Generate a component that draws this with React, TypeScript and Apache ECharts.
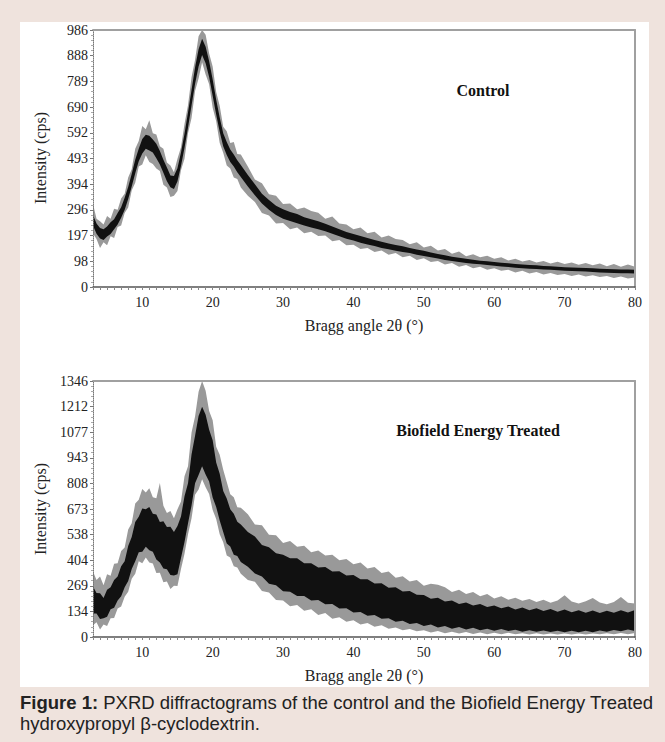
import React, { useEffect, useRef } from "react";
import * as echarts from "echarts";

// Sampled Bragg angles (deg)
const ANGLES = [3,3.5,4,4.5,5,5.5,6,6.5,7,7.5,8,8.5,9,9.5,10,10.5,11,11.5,12,12.5,13,13.5,14,14.5,15,15.5,16,16.5,17,17.5,18,18.5,19,19.5,20,20.5,21,21.5,22,22.5,23,23.5,24,
25,26,27,28,29,30,31,32,33,34,35,36,37,38,39,40,41,42,43,44,45,46,47,48,49,50,51,52,53,54,55,56,57,58,59,60,61,62,63,64,65,66,67,68,69,70,71,72,73,74,75,76,77,78,79,80];

// Control: envelope of the noisy trace (outer = extreme spikes, inner = dense core)
const CTRL_LOW_OUT = [205,184,150,172,160,195,188,230,236,284,305,370,400,462,470,505,480,472,455,445,392,382,345,350,368,448,492,590,648,752,800,862,815,778,688,636,552,515,466,455,420,414,382,
350,326,284,274,244,246,222,228,206,212,196,198,176,180,160,162,146,150,134,140,124,130,114,120,104,110,96,100,86,92,78,84,72,78,66,72,62,66,56,62,52,58,48,54,46,50,42,48,40,45,38,42,35,40,33,36];
const CTRL_LOW_IN = [236,204,186,180,194,203,222,240,266,296,338,386,436,482,512,530,524,516,494,470,438,406,383,376,406,464,534,612,696,780,846,890,858,806,734,662,596,540,506,480,462,440,422,
386,352,320,296,276,262,253,245,236,228,222,214,204,195,185,178,170,163,157,150,145,139,134,130,124,119,114,109,104,100,96,92,89,87,84,82,79,77,74,72,70,69,67,66,64,62,61,60,59,58,56,55,54,53,53,52];
const CTRL_HIGH_IN = [276,244,226,222,232,248,260,284,306,342,384,434,488,530,568,584,580,566,550,522,488,458,428,426,456,516,588,670,756,842,912,952,922,866,796,718,650,590,556,528,508,486,468,
430,394,358,334,312,298,288,280,268,260,252,243,232,222,211,203,196,188,180,174,167,161,156,150,144,139,132,127,122,116,112,108,105,101,99,96,93,91,88,86,84,83,81,80,78,76,75,74,73,72,70,69,68,67,67,66];
const CTRL_HIGH_OUT = [318,262,252,240,272,262,300,296,340,358,420,452,530,560,618,605,640,590,585,540,530,478,466,440,492,536,625,698,805,872,962,986,968,896,846,748,695,615,598,552,556,510,508,
462,412,398,356,350,318,320,298,305,292,285,262,270,244,240,222,228,206,212,190,198,184,180,164,172,152,158,140,146,128,136,118,126,114,120,108,114,102,108,98,104,94,100,90,97,88,94,85,92,83,90,80,88,78,86,78];

// Biofield Energy Treated
const TRT_LOW_OUT = [62,78,40,66,58,98,100,150,160,212,238,306,332,398,388,418,392,386,336,338,288,292,252,270,268,358,438,540,625,748,775,830,788,752,668,620,540,498,428,418,372,366,332,
300,290,242,234,194,192,162,168,138,146,116,126,96,104,80,88,66,74,54,62,44,50,36,42,30,36,24,32,20,28,18,26,16,24,15,22,14,22,14,20,13,20,13,19,13,19,13,19,13,19,14,20,14,21,15,21];
const TRT_LOW_IN = [124,124,94,98,106,146,154,192,214,262,294,358,398,446,448,474,456,448,408,392,360,356,326,324,330,416,500,598,692,808,852,898,854,818,734,684,612,552,492,476,432,426,394,
370,334,318,280,272,240,238,216,216,192,194,172,174,150,151,129,132,112,116,96,99,80,86,68,74,58,66,50,58,44,52,40,48,36,44,33,42,31,38,28,35,27,34,26,33,25,33,25,33,25,34,27,37,30,39,32];
const TRT_HIGH_IN = [266,232,230,205,248,262,300,318,372,398,478,526,604,632,676,672,684,648,644,604,608,578,580,552,584,634,740,808,960,1058,1162,1210,1168,1090,1034,918,858,768,728,672,648,606,592,
552,528,484,472,440,432,414,414,388,388,366,368,344,346,324,326,304,304,281,282,259,261,239,242,222,221,201,206,187,192,174,182,166,174,158,166,151,160,145,155,141,151,137,147,133,144,130,141,128,139,126,138,127,140,129,142];
const TRT_HIGH_OUT = [345,300,318,272,330,322,385,388,452,470,565,598,702,722,778,760,782,735,730,810,690,652,662,625,672,712,845,898,1075,1160,1290,1346,1295,1188,1140,1000,958,880,815,750,735,682,680,
645,592,588,538,535,494,505,474,480,446,455,428,432,404,410,382,392,360,368,336,344,312,320,292,300,270,280,275,262,236,248,226,236,214,226,202,214,196,206,190,200,184,196,180,192,220,186,176,188,205,182,172,184,210,180,176];

const CTRL_Y_LABELS = ["0","98","197","296","394","493","592","690","789","888","986"];
const TRT_Y_LABELS = ["0","134","269","404","538","673","808","943","1077","1212","1346"];
const CTRL_Y_MAX = 986;
const TRT_Y_MAX = 1346;
const X_MIN = 3;
const X_MAX = 80;

const SERIF = "'Liberation Serif', 'Times New Roman', serif";
const SANS = "'Liberation Sans', Arial, sans-serif";

// Painter's order: each envelope is an area down to zero, later ones drawn over earlier ones.
function bandSeries(lowOut: number[], lowIn: number[], highIn: number[], highOut: number[], idx: number) {
  const layers: [string, number[], string][] = [
    ["fuzzHigh", highOut, "#999999"],
    ["core", highIn, "#111111"],
    ["fuzzLow", lowIn, "#999999"],
    ["clear", lowOut, "#ffffff"],
  ];
  return layers.map(([name, values, color], k) => ({
    type: "line" as const,
    name: name + idx,
    xAxisIndex: idx * 2,
    yAxisIndex: idx * 2,
    symbol: "none",
    silent: true,
    z: 2 + k,
    lineStyle: { width: 0, opacity: 0 },
    areaStyle: { color, opacity: 1, origin: "start" },
    data: ANGLES.map((a, i) => [a, values[i]]),
  }));
}

function xAxes(gridIndex: number) {
  return [
    {
      type: "value", gridIndex, min: X_MIN, max: X_MAX, interval: 1, position: "bottom",
      axisLine: { onZero: false, lineStyle: { color: "#555", width: 1.5 } },
      axisTick: { show: true, length: 3, lineStyle: { color: "#888", width: 1 } },
      axisLabel: {
        fontFamily: SERIF, fontSize: 14, color: "#222", margin: 8,
        formatter: (v: number) => (v % 10 === 0 ? String(v) : ""),
      },
      splitLine: { show: false },
      z: 10,
    },
    {
      type: "value", gridIndex, min: X_MIN, max: X_MAX, position: "top",
      axisLine: { show: true, onZero: false, lineStyle: { color: "#a0a0a0", width: 2 } },
      axisTick: { show: false }, axisLabel: { show: false }, splitLine: { show: false },
      z: 10,
    },
  ];
}

function yAxes(gridIndex: number, max: number, labels: string[]) {
  const interval = max / 10;
  return [
    {
      type: "value", gridIndex, min: 0, max, interval, position: "left",
      axisLine: { show: true, onZero: false, lineStyle: { color: "#777", width: 1, type: "dotted" } },
      axisTick: { show: true, length: 3, lineStyle: { color: "#777" } },
      minorTick: { show: true, splitNumber: 5, length: 2, lineStyle: { color: "#aaa" } },
      axisLabel: {
        fontFamily: SERIF, fontSize: 14, color: "#222", margin: 5,
        formatter: (v: number) => labels[Math.round(v / interval)] ?? "",
      },
      splitLine: { show: false },
      z: 10,
    },
    {
      type: "value", gridIndex, min: 0, max, position: "right",
      axisLine: { show: true, onZero: false, lineStyle: { color: "#a0a0a0", width: 2 } },
      axisTick: { show: false }, axisLabel: { show: false }, splitLine: { show: false },
      z: 10,
    },
  ];
}

export default function App() {
  const ref = useRef<HTMLDivElement>(null);
  useEffect(() => {
    if (!ref.current) return;
    const chart = echarts.init(ref.current, undefined, { renderer: "svg" });
    chart.setOption({
      animation: false,
      backgroundColor: "#efe3dd",
      grid: [
        { left: 93, top: 30, width: 542, height: 257 },
        { left: 93, top: 381, width: 542, height: 256 },
      ],
      xAxis: [...xAxes(0), ...xAxes(1)],
      yAxis: [...yAxes(0, CTRL_Y_MAX, CTRL_Y_LABELS), ...yAxes(1, TRT_Y_MAX, TRT_Y_LABELS)],
      series: [
        ...bandSeries(CTRL_LOW_OUT, CTRL_LOW_IN, CTRL_HIGH_IN, CTRL_HIGH_OUT, 0),
        ...bandSeries(TRT_LOW_OUT, TRT_LOW_IN, TRT_HIGH_IN, TRT_HIGH_OUT, 1),
      ],
      graphic: [
        { type: "rect", z: -100, silent: true, shape: { x: 20, y: 22, width: 629, height: 665 }, style: { fill: "#ffffff" } },
        { type: "text", x: 483, y: 90, style: { text: "Control", font: `bold 16px ${SERIF}`, fill: "#111", align: "center", verticalAlign: "middle" } },
        { type: "text", x: 478, y: 430, style: { text: "Biofield Energy Treated", font: `bold 16px ${SERIF}`, fill: "#111", align: "center", verticalAlign: "middle" } },
        { type: "text", x: 364, y: 325, style: { text: "Bragg angle 2θ (°)", font: `16px ${SERIF}`, fill: "#222", align: "center", verticalAlign: "middle" } },
        { type: "text", x: 364, y: 675, style: { text: "Bragg angle 2θ (°)", font: `16px ${SERIF}`, fill: "#222", align: "center", verticalAlign: "middle" } },
        { type: "text", x: 40, y: 158, rotation: Math.PI / 2, style: { text: "Intensity (cps)", font: `16px ${SERIF}`, fill: "#222", align: "center", verticalAlign: "middle" } },
        { type: "text", x: 40, y: 509, rotation: Math.PI / 2, style: { text: "Intensity (cps)", font: `16px ${SERIF}`, fill: "#222", align: "center", verticalAlign: "middle" } },
        {
          type: "text", x: 20, y: 692,
          style: {
            text: "{b|Figure 1:} PXRD diffractograms of the control and the Biofield Energy Treated\nhydroxypropyl β-cyclodextrin.",
            font: `18.5px ${SANS}`, fill: "#222", lineHeight: 21, verticalAlign: "top",
            rich: { b: { fontWeight: "bold", fontSize: 18.5, fontFamily: SANS, fill: "#222", lineHeight: 21 } },
          },
        },
      ],
    });
    return () => chart.dispose();
  }, []);
  return <div ref={ref} style={{ position: "fixed", left: 0, top: 0, width: 665, height: 742 }} />;
}
